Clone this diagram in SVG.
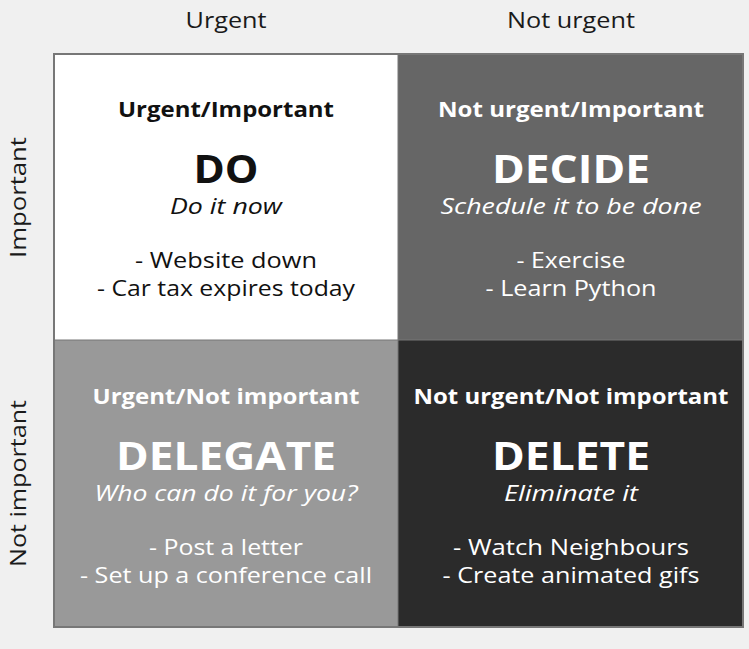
<svg xmlns="http://www.w3.org/2000/svg" width="749" height="649" viewBox="0 0 749 649">
<style>
.ax{font-family:"Open Sans","Liberation Sans",sans-serif;font-size:21px;fill:#1a1a1a;text-anchor:middle}
.q{font-family:"Open Sans","Liberation Sans",sans-serif;text-anchor:middle}
.h{font-size:21px;font-weight:700}
.t{font-size:39px;font-weight:700}
.i{font-size:21px;font-style:italic}
.b{font-size:21.5px}
.dk{fill:#111}
.lt{fill:#fff}
</style>
<rect width="749" height="649" fill="#f0f0f0"/>
<g id="axes">
<text class="ax" x="226" y="28" textLength="81" lengthAdjust="spacingAndGlyphs">Urgent</text>
<text class="ax" x="571" y="28" textLength="128" lengthAdjust="spacingAndGlyphs">Not urgent</text>
<text class="ax" transform="translate(26,197.5) rotate(-90)" textLength="121" lengthAdjust="spacingAndGlyphs">Important</text>
<text class="ax" transform="translate(26,483.5) rotate(-90)" textLength="167" lengthAdjust="spacingAndGlyphs">Not important</text>
</g>
<g id="do">
<rect x="54" y="54" width="344" height="286" fill="#ffffff"/>
<text class="q h dk" x="226" y="117" textLength="216" lengthAdjust="spacingAndGlyphs">Urgent/Important</text>
<text class="q t dk" x="226" y="183" textLength="65" lengthAdjust="spacingAndGlyphs">DO</text>
<text class="q i dk" x="226" y="214" textLength="112" lengthAdjust="spacingAndGlyphs">Do it now</text>
<text class="q b dk" x="226" y="268" textLength="182" lengthAdjust="spacingAndGlyphs">- Website down</text>
<text class="q b dk" x="226" y="296" textLength="258" lengthAdjust="spacingAndGlyphs">- Car tax expires today</text>
</g>
<g id="decide">
<rect x="398" y="54" width="345" height="286" fill="#666666"/>
<text class="q h lt" x="571" y="117" textLength="266" lengthAdjust="spacingAndGlyphs">Not urgent/Important</text>
<text class="q t lt" x="571" y="183" textLength="158" lengthAdjust="spacingAndGlyphs">DECIDE</text>
<text class="q i lt" x="571" y="214" textLength="261" lengthAdjust="spacingAndGlyphs">Schedule it to be done</text>
<text class="q b lt" x="571" y="268" textLength="109" lengthAdjust="spacingAndGlyphs">- Exercise</text>
<text class="q b lt" x="571" y="296" textLength="171" lengthAdjust="spacingAndGlyphs">- Learn Python</text>
</g>
<g id="delegate">
<rect x="54" y="340" width="344" height="287" fill="#999999"/>
<text class="q h lt" x="226" y="404" textLength="267" lengthAdjust="spacingAndGlyphs">Urgent/Not important</text>
<text class="q t lt" x="226" y="470" textLength="220" lengthAdjust="spacingAndGlyphs">DELEGATE</text>
<text class="q i lt" x="226" y="501" textLength="263" lengthAdjust="spacingAndGlyphs">Who can do it for you?</text>
<text class="q b lt" x="226" y="555" textLength="154" lengthAdjust="spacingAndGlyphs">- Post a letter</text>
<text class="q b lt" x="226" y="583" textLength="292" lengthAdjust="spacingAndGlyphs">- Set up a conference call</text>
</g>
<g id="delete">
<rect x="398" y="340" width="345" height="287" fill="#2b2b2b"/>
<text class="q h lt" x="571" y="404" textLength="315" lengthAdjust="spacingAndGlyphs">Not urgent/Not important</text>
<text class="q t lt" x="571" y="470" textLength="158" lengthAdjust="spacingAndGlyphs">DELETE</text>
<text class="q i lt" x="571" y="501" textLength="134" lengthAdjust="spacingAndGlyphs">Eliminate it</text>
<text class="q b lt" x="571" y="555" textLength="236" lengthAdjust="spacingAndGlyphs">- Watch Neighbours</text>
<text class="q b lt" x="571" y="583" textLength="257" lengthAdjust="spacingAndGlyphs">- Create animated gifs</text>
</g>
<g id="connectors">
<rect x="54" y="54" width="689" height="573" fill="none" stroke="#777" stroke-width="2"/>
<line x1="398" y1="54" x2="398" y2="627" stroke="#777" stroke-width="1"/>
<line x1="54" y1="340" x2="743" y2="340" stroke="#777" stroke-width="1"/>
</g>
</svg>
